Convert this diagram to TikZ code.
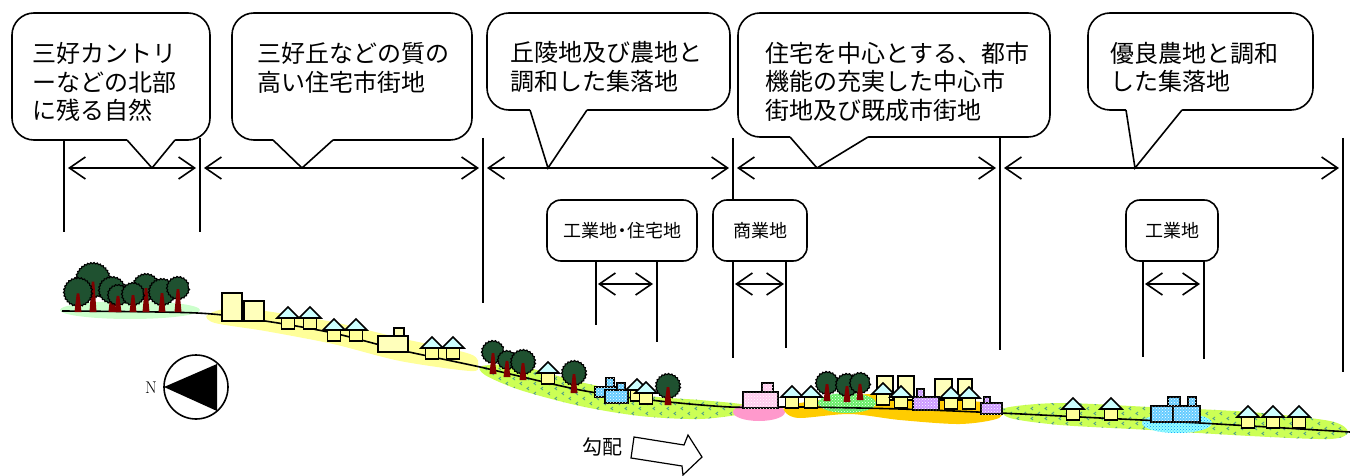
\documentclass[tikz,border=0pt]{standalone}
\usepackage{fontspec}
\newfontfamily\jp{Noto Sans CJK JP}
\usetikzlibrary{arrows.meta,patterns,decorations.pathmorphing}

\definecolor{roof}{HTML}{CCFFFF}
\definecolor{wall}{HTML}{FFFF99}
\definecolor{tower}{HTML}{FFFFBB}
\definecolor{forest}{HTML}{CCFFCC}
\definecolor{town}{HTML}{FFFF99}
\definecolor{field}{HTML}{CCFF55}
\definecolor{sprout}{HTML}{4A9A8A}
\definecolor{shopzone}{HTML}{FF99CC}
\definecolor{centre}{HTML}{FFCC00}
\definecolor{park}{HTML}{66EE66}
\definecolor{pond}{HTML}{99FFFF}
\definecolor{factory}{HTML}{66CCFF}
\definecolor{store}{HTML}{FFCCEE}
\definecolor{office}{HTML}{CC99FF}
\definecolor{crowngreen}{HTML}{1F5130}
\definecolor{trunkred}{HTML}{800000}

% little chevrons for the farm land
\pgfdeclarepatternformonly{chevrons}{\pgfqpoint{-1pt}{-1pt}}{\pgfqpoint{15pt}{11pt}}{\pgfqpoint{14pt}{10pt}}{%
  \pgfsetlinewidth{0.8pt}
  \pgfpathmoveto{\pgfqpoint{4pt}{1pt}}\pgfpathlineto{\pgfqpoint{2pt}{2.5pt}}\pgfpathlineto{\pgfqpoint{4pt}{4pt}}
  \pgfpathmoveto{\pgfqpoint{11pt}{6pt}}\pgfpathlineto{\pgfqpoint{9pt}{7.5pt}}\pgfpathlineto{\pgfqpoint{11pt}{9pt}}
  \pgfusepath{stroke}}

% house: centre x, ground y
\newcommand{\house}[2]{%
  \filldraw[bld, fill=wall] (#1-6.5,#2) rectangle (#1+6.5,#2-11);
  \filldraw[bld, fill=roof] (#1-11,#2-11) -- (#1,#2-22) -- (#1+11,#2-11) -- cycle;}
% tree: x, crown y, radius, ground y
\newcommand{\tree}[4]{%
  \filldraw[crown] (#1,#2) circle[radius=#3];
  \fill[trunkred] (#1-3.5,#4) -- (#1-1.3,#2+#3*0.1) -- (#1+1.3,#2+#3*0.1) -- (#1+3.5,#4) -- cycle;}
% speech box: left, top, right, bottom, wedge left, wedge right, tip x
\newcommand{\callbox}[7]{%
  \draw[box] (#1,#2) rectangle (#3,#4);
  \fill[white] (#5,#4-2) -- (#5,#4) -- (#7,168) -- (#6,#4) -- (#6,#4-2) -- cycle;
  \draw (#5,#4) -- (#7,168) -- (#6,#4);}

\begin{document}
\begin{tikzpicture}[x=1pt,y=-1pt,line width=1.6pt,
  box/.style={draw,fill=white,rounded corners=22pt},
  note/.style={font=\jp\fontsize{24}{28.5}\selectfont,align=left,anchor=north west,inner sep=0pt},
  tag/.style={draw,fill=white,rounded corners=14pt,font=\jp\fontsize{18}{20}\selectfont,minimum height=61pt,inner sep=0pt},
  dim/.style={{Straight Barb[length=16pt,width=22pt]}-{Straight Barb[length=16pt,width=22pt]},shorten <=4pt,shorten >=4pt},
  bld/.style={draw=black,line width=1.6pt},
  crown/.style={fill=crowngreen,draw=black,line width=1.1pt,decorate,decoration={bumps,segment length=6pt,amplitude=1.5pt}},
  dotted fill/.style={postaction={pattern=crosshatch dots,pattern color=#1}},
  land/.style={fill=field,postaction={pattern=chevrons,pattern color=sprout}}]

\useasboundingbox (0,0) rectangle (1350,476);

% land use under the ground line
\fill[forest] (130,310) ellipse[x radius=70,y radius=9];
\fill[town] plot[smooth cycle] coordinates {(207,315) (230,308) (265,311) (333,322) (400,338) (470,354) (478,366) (470,371) (400,361) (333,344) (265,331) (215,323)};
\path[land] plot[smooth cycle] coordinates {(482,366) (520,366) (580,382) (650,396) (700,400) (746,405) (746,413) (700,419) (640,416) (580,406) (520,390) (485,375)};
\fill[shopzone] (759,412) ellipse[x radius=26,y radius=9];
\fill[centre] plot[smooth cycle] coordinates {(786,406) (820,400) (870,394) (920,397) (960,400) (999,405) (999,418) (960,424) (900,420) (850,414) (800,418) (786,413)};
\path[fill=park,dotted fill=white] (847,403) ellipse[x radius=29,y radius=10];
\path[land] plot[smooth cycle] coordinates {(1005,408) (1060,403) (1150,407) (1250,412) (1330,421) (1348,432) (1330,439) (1250,436) (1150,430) (1060,425) (1010,418)};
\path[fill=pond,dotted fill=cyan!60!blue] (1177,423) ellipse[x radius=35,y radius=10];

% ground
\draw plot[smooth] coordinates {(62,311) (197,313) (265,321) (333,333) (400,350) (480,367) (580,390) (650,400) (730,407) (800,407) (900,409) (1000,413) (1100,418) (1200,423) (1350,432)};

% forest on the north side
\tree{93}{280}{16}{312}
\tree{146}{287}{12}{312}
\tree{112}{290}{12}{312}
\tree{78}{292}{13}{312}
\tree{118}{295}{9}{312}
\tree{133}{294}{10}{312}
\tree{162}{292}{12}{312}
\tree{178}{288}{10}{312}

% residential slope
\filldraw[bld,fill=tower] (222,293) rectangle (242,321);
\filldraw[bld,fill=tower] (244,301) rectangle (264,321);
\house{288}{329}
\house{310}{329}
\house{334}{341}
\house{356}{341}
\filldraw[bld,fill=tower] (378,336) rectangle (408,352);
\filldraw[bld,fill=tower] (394,328) rectangle (404,336);
\house{432}{359}
\house{453}{359}

% hillside village
\tree{493}{352}{10}{374}
\tree{507}{360}{8}{377}
\tree{523}{362}{11}{380}
\house{548}{384}
\tree{574}{373}{11}{393}
\filldraw[bld,fill=factory,dotted fill=white] (595,387) rectangle (617,397);
\filldraw[bld,fill=factory,dotted fill=white] (606,378) rectangle (614,387);
\filldraw[bld,fill=factory,dotted fill=white] (605,390) rectangle (628,403);
\filldraw[bld,fill=factory,dotted fill=white] (617,383) rectangle (625,390);
\house{637}{401}
\house{646}{404}
\tree{668}{386}{11}{405}

% commercial and town centre
\filldraw[bld,fill=store,dotted fill=white] (743,392) rectangle (778,408);
\filldraw[bld,fill=store,dotted fill=white] (762,383) rectangle (773,392);
\house{792}{408}
\house{811}{408}
\tree{827}{383}{10}{401}
\tree{847}{385}{10}{402}
\tree{860}{383}{9}{400}
\filldraw[bld,fill=tower] (877,376) rectangle (893,400);
\filldraw[bld,fill=tower] (898,376) rectangle (914,400);
\filldraw[bld,fill=tower] (935,379) rectangle (952,400);
\filldraw[bld,fill=tower] (958,379) rectangle (972,400);
\house{883}{405}
\house{901}{408}
\filldraw[bld,fill=office,dotted fill=white] (913,397) rectangle (939,410);
\filldraw[bld,fill=office,dotted fill=white] (917,389) rectangle (924,397);
\house{951}{409}
\house{969}{409}
\filldraw[bld,fill=office,dotted fill=white] (981,403) rectangle (1002,414);
\filldraw[bld,fill=office,dotted fill=white] (984,397) rectangle (990,403);

% farm village
\house{1073}{420}
\house{1111}{420}
\filldraw[bld,fill=factory,dotted fill=white] (1151,406) rectangle (1173,422);
\filldraw[bld,fill=factory,dotted fill=white] (1173,406) rectangle (1200,422);
\filldraw[bld,fill=factory,dotted fill=white] (1168,397) rectangle (1180,406);
\filldraw[bld,fill=factory,dotted fill=white] (1188,397) rectangle (1196,406);
\house{1248}{428}
\house{1273}{428}
\house{1299}{428}

% zone dividers
\coordinate (a0) at (64,168);
\coordinate (a1) at (200,168);
\coordinate (a2) at (483,168);
\coordinate (a3) at (733,168);
\coordinate (a4) at (1000,168);
\coordinate (a5) at (1343,168);
\draw (64,138) -- (64,232);
\draw (200,138) -- (200,232);
\draw (483,138) -- (483,303);
\draw (733,138) -- (733,358);
\draw (1000,138) -- (1000,350);
\draw (1343,138) -- (1343,372);
\draw[dim] (a0) -- (a1);
\draw[dim] (a1) -- (a2);
\draw[dim] (a2) -- (a3);
\draw[dim] (a3) -- (a4);
\draw[dim] (a4) -- (a5);

% zone notes
\callbox{12}{13}{210}{140}{127}{175}{152}
\callbox{232}{13}{472}{140}{273}{333}{302}
\callbox{487}{13}{730}{110}{530}{587}{548}
\callbox{738}{13}{1050}{137}{790}{868}{817}
\callbox{1088}{13}{1313}{110}{1126}{1182}{1135}
\node[note] (n1) at (32,42) {三好カントリ\\ーなどの北部\\に残る自然};
\node[note] (n2) at (257,42) {三好丘などの質の\\高い住宅市街地};
\node[note] (n3) at (510,41) {丘陵地及び農地と\\調和した集落地};
\node[note] (n4) at (765,41) {住宅を中心とする、都市\\機能の充実した中心市\\街地及び既成市街地};
\node[note] (n5) at (1110,41) {優良農地と調和\\した集落地};

% smaller land use tags
\node[tag,minimum width=150pt] (mixed) at (622,230.5) {工業地{\kern-4pt}・{\kern-4pt}住宅地};
\node[tag,minimum width=94pt] (shop) at (760,230.5) {商業地};
\node[tag,minimum width=92pt] (works) at (1172,230.5) {工業地};
\coordinate (m1) at (596,284);
\coordinate (m2) at (657,284);
\coordinate (s1) at (733,284);
\coordinate (s2) at (786,284);
\coordinate (w1) at (1143,284);
\coordinate (w2) at (1204,284);
\draw (596,261) -- (596,325);
\draw (657,261) -- (657,342);
\draw (786,261) -- (786,348);
\draw (1143,261) -- (1143,357);
\draw (1204,261) -- (1204,359);
\draw[dim,shorten <=2pt,shorten >=4pt] (m1) -- (m2);
\draw[dim,shorten <=2pt,shorten >=2pt] (s1) -- (s2);
\draw[dim,shorten <=2pt,shorten >=4pt] (w1) -- (w2);

% compass
\draw (196,387) circle[radius=32];
\fill (164,387) -- (217,364) -- (217,411) -- cycle;
\node[font=\fontsize{17}{17}\selectfont] (north) at (151,388) {N};

% slope
\node[font=\jp\fontsize{20}{20}\selectfont] (slope) at (602,447) {勾配};
\draw[line width=1.2pt,fill=white] (634,437) -- (684,445) -- (688,435) -- (702,457) -- (683,475) -- (682,466) -- (631,458) -- cycle;
\end{tikzpicture}
\end{document}
